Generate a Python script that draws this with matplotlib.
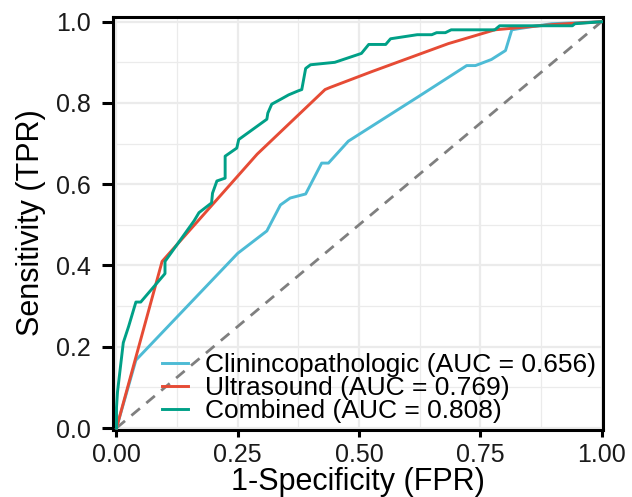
import matplotlib.pyplot as plt
from matplotlib.ticker import MultipleLocator

plt.rcParams["font.family"] = ["Liberation Sans", "DejaVu Sans"]

# ROC curve points
clin_fpr = [0.0, 0.04, 0.25, 0.31, 0.338, 0.358, 0.39, 0.423, 0.437, 0.478,
            0.623, 0.722, 0.74, 0.773, 0.802, 0.815, 0.83, 0.897, 1.0]
clin_tpr = [0.0, 0.167, 0.43, 0.485, 0.549, 0.566, 0.576, 0.652, 0.652, 0.706,
            0.816, 0.892, 0.892, 0.907, 0.929, 0.98, 0.983, 0.995, 1.0]

us_fpr = [0.0, 0.094, 0.29, 0.43, 0.44, 0.526, 0.684, 0.78, 0.9, 1.0]
us_tpr = [0.0, 0.41, 0.674, 0.833, 0.838, 0.877, 0.946, 0.98, 0.993, 1.0]

comb_fpr = [0.0, 0.0, 0.002, 0.014, 0.025, 0.03, 0.04, 0.05, 0.10, 0.10,
            0.16, 0.17, 0.196, 0.198, 0.207, 0.224, 0.224, 0.248, 0.252,
            0.31, 0.312, 0.32, 0.34, 0.355, 0.375, 0.382, 0.39, 0.40, 0.45,
            0.485, 0.505, 0.52, 0.555, 0.565, 0.62, 0.65, 0.66, 0.678, 0.69,
            0.78, 0.79, 0.94, 0.945, 1.0]
comb_tpr = [0.0, 0.05, 0.088, 0.21, 0.25, 0.27, 0.31, 0.31, 0.38, 0.41,
            0.51, 0.53, 0.554, 0.578, 0.608, 0.615, 0.669, 0.689, 0.71,
            0.76, 0.775, 0.797, 0.81, 0.82, 0.83, 0.833, 0.885, 0.894, 0.90,
            0.914, 0.922, 0.944, 0.944, 0.958, 0.968, 0.968, 0.973, 0.973, 0.98,
            0.98, 0.99, 0.99, 0.995, 1.0]

labels = ["Clinincopathologic (AUC = 0.656)",
          "Ultrasound (AUC = 0.769)",
          "Combined (AUC = 0.808)"]
colors = ["#4DBBD5", "#E64B35", "#00A087"]


def main():
    fig = plt.figure(figsize=(6.32, 4.97), dpi=100)
    ax = fig.add_axes([0.1788, 0.1358, 0.7753, 0.831])

    ax.plot([0, 1], [0, 1], linestyle=(0, (4, 3)), color="#7F7F7F", lw=2, zorder=2)
    series = [(clin_fpr, clin_tpr), (us_fpr, us_tpr), (comb_fpr, comb_tpr)]
    for (x, y), lab, col in zip(series, labels, colors):
        ax.plot(x, y, color=col, lw=2.1, label=lab, zorder=3)

    ax.set_xlim(-0.0072, 1.003)
    ax.set_ylim(-0.0037, 1.0128)
    ax.xaxis.set_major_locator(MultipleLocator(0.25))
    ax.xaxis.set_minor_locator(MultipleLocator(0.125))
    ax.yaxis.set_major_locator(MultipleLocator(0.2))
    ax.yaxis.set_minor_locator(MultipleLocator(0.1))
    ax.xaxis.set_major_formatter(lambda v, p: f"{v:.2f}")
    ax.yaxis.set_major_formatter(lambda v, p: f"{v:.1f}")

    ax.grid(which="major", color="#EBEBEB", lw=1.6, zorder=0)
    ax.grid(which="minor", color="#EBEBEB", lw=0.9, zorder=0)
    ax.set_axisbelow(True)

    for s in ax.spines.values():
        s.set_linewidth(2.2)
        s.set_color("black")
    ax.tick_params(which="major", width=2.2, color="black",
                   labelsize=18, labelcolor="#1A1A1A")
    ax.tick_params(axis="y", which="major", length=8, pad=8)
    ax.tick_params(axis="x", which="major", length=5, pad=5)
    ax.tick_params(which="minor", length=0)

    ax.set_xlabel("1-Specificity (FPR)", fontsize=22, labelpad=0)
    ax.set_ylabel("Sensitivity (TPR)", fontsize=22, labelpad=7)

    ax.legend(loc="center left", bbox_to_anchor=(0.1, 0.1), frameon=False,
              fontsize=19, handlelength=1.0, handletextpad=0.63,
              labelspacing=-0.04, borderpad=0, borderaxespad=0)

    fig.savefig("out.png", dpi=100)
    plt.close(fig)


if __name__ == "__main__":
    main()
